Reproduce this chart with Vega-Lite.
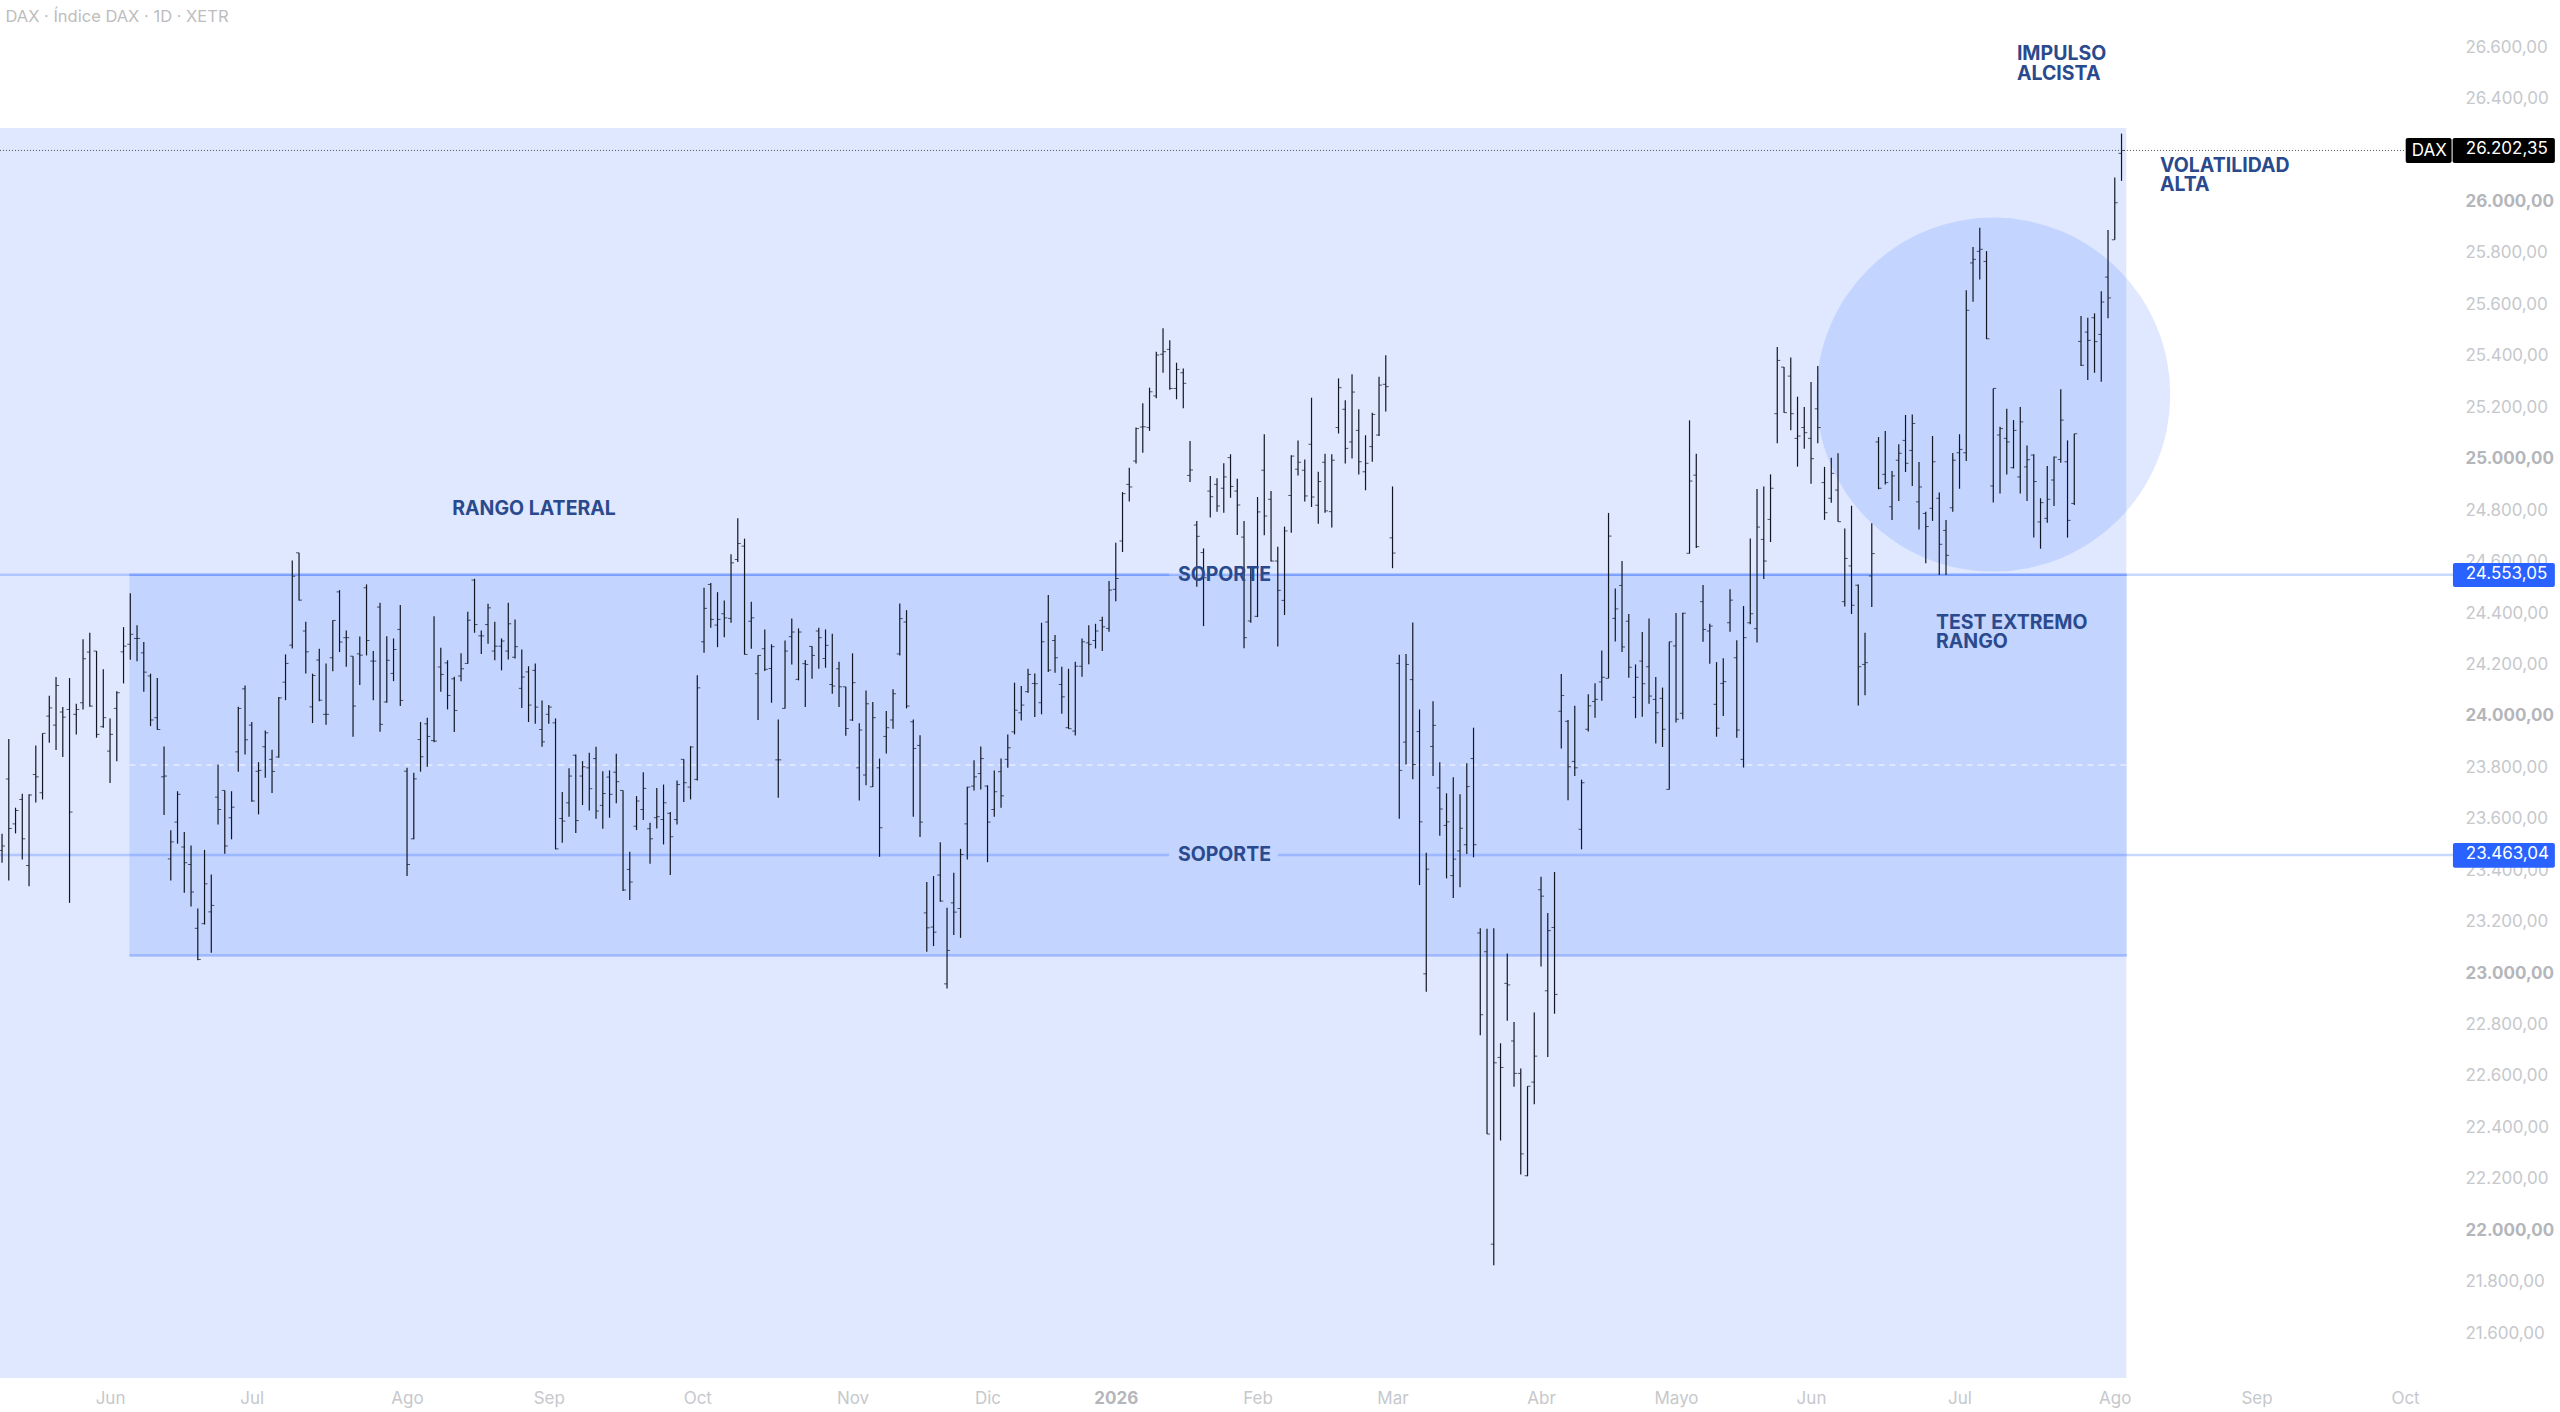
{
  "$schema": "https://vega.github.io/schema/vega-lite/v6.json",
  "description": "DAX daily bars with a lateral range, supports and annotations",
  "width": 2560,
  "height": 1412,
  "padding": 0,
  "autosize": {"type": "none"},
  "background": "#ffffff",
  "config": {"view": {"stroke": null}, "font": "Inter"},
  "datasets": {
    "bars": [
{"i":0,"o":23481,"h":23546,"l":23433,"c":23498},{"i":1,"o":23759,"h":23914,"l":23364,"c":23566},{"i":2,"o":23584,"h":23647,"l":23547,"c":23636},{"i":3,"o":23679,"h":23701,"l":23446,"c":23526},{"i":4,"o":23422,"h":23699,"l":23342,"c":23696},
{"i":5,"o":23776,"h":23889,"l":23667,"c":23767},{"i":6,"o":23705,"h":23936,"l":23679,"c":23936},{"i":7,"o":24003,"h":24082,"l":23899,"c":24035},{"i":8,"o":23968,"h":24155,"l":23871,"c":24122},{"i":9,"o":24019,"h":24038,"l":23844,"c":23999},
{"i":10,"o":24029,"h":24151,"l":23277,"c":23630},{"i":11,"o":24010,"h":24051,"l":23932,"c":24029},{"i":12,"o":24055,"h":24302,"l":24029,"c":24226},{"i":13,"o":24252,"h":24327,"l":24039,"c":24042},{"i":14,"o":24256,"h":24256,"l":23919,"c":23932},
{"i":15,"o":23962,"h":24185,"l":23958,"c":23997},{"i":16,"o":23867,"h":23994,"l":23743,"c":23932},{"i":17,"o":24033,"h":24100,"l":23828,"c":24094},{"i":18,"o":24253,"h":24349,"l":24130,"c":24275},{"i":19,"o":24282,"h":24481,"l":24222,"c":24321},
{"i":20,"o":24305,"h":24356,"l":24216,"c":24305},{"i":21,"o":24249,"h":24291,"l":24098,"c":24174},{"i":22,"o":24159,"h":24168,"l":23964,"c":23988},{"i":23,"o":23997,"h":24151,"l":23950,"c":23951},{"i":24,"o":23767,"h":23885,"l":23619,"c":23770},
{"i":25,"o":23448,"h":23559,"l":23364,"c":23514},{"i":26,"o":23591,"h":23711,"l":23507,"c":23699},{"i":27,"o":23494,"h":23552,"l":23316,"c":23433},{"i":28,"o":23426,"h":23500,"l":23263,"c":23319},{"i":29,"o":23178,"h":23255,"l":23054,"c":23057},
{"i":30,"o":23196,"h":23483,"l":23193,"c":23351},{"i":31,"o":23242,"h":23387,"l":23083,"c":23267},{"i":32,"o":23688,"h":23815,"l":23582,"c":23640},{"i":33,"o":23714,"h":23714,"l":23468,"c":23498},{"i":34,"o":23608,"h":23711,"l":23524,"c":23649},
{"i":35,"o":23864,"h":24039,"l":23787,"c":24033},{"i":36,"o":24109,"h":24122,"l":23854,"c":23911},{"i":37,"o":23968,"h":23980,"l":23670,"c":23673},{"i":38,"o":23789,"h":23824,"l":23621,"c":23792},{"i":39,"o":23884,"h":23947,"l":23763,"c":23938},
{"i":40,"o":23835,"h":23872,"l":23704,"c":23788},{"i":41,"o":23844,"h":24077,"l":23841,"c":24074},{"i":42,"o":24135,"h":24243,"l":24065,"c":24208},{"i":43,"o":24279,"h":24608,"l":24266,"c":24547},{"i":44,"o":24638,"h":24638,"l":24453,"c":24454},
{"i":45,"o":24334,"h":24370,"l":24169,"c":24253},{"i":46,"o":24039,"h":24168,"l":23976,"c":24161},{"i":47,"o":24221,"h":24265,"l":24061,"c":24065},{"i":48,"o":24010,"h":24208,"l":23969,"c":24010},{"i":49,"o":24230,"h":24376,"l":24177,"c":24375},
{"i":50,"o":24486,"h":24493,"l":24252,"c":24291},{"i":51,"o":24308,"h":24336,"l":24195,"c":24308},{"i":52,"o":24236,"h":24236,"l":23923,"c":24042},{"i":53,"o":24245,"h":24313,"l":24124,"c":24240},{"i":54,"o":24502,"h":24515,"l":24239,"c":24297},
{"i":55,"o":24217,"h":24256,"l":24065,"c":24217},{"i":56,"o":24427,"h":24444,"l":23942,"c":23971},{"i":57,"o":24058,"h":24314,"l":24055,"c":24220},{"i":58,"o":24169,"h":24305,"l":24139,"c":24262},{"i":59,"o":24340,"h":24435,"l":24042,"c":24064},
{"i":60,"o":23789,"h":23802,"l":23381,"c":23426},{"i":61,"o":23526,"h":23783,"l":23524,"c":23759},{"i":62,"o":23912,"h":23980,"l":23787,"c":23845},{"i":63,"o":23973,"h":23997,"l":23806,"c":23924},{"i":64,"o":23908,"h":24391,"l":23901,"c":23906},
{"i":65,"o":24194,"h":24269,"l":24098,"c":24165},{"i":66,"o":24210,"h":24220,"l":24029,"c":24083},{"i":67,"o":24148,"h":24156,"l":23941,"c":24025},{"i":68,"o":24159,"h":24247,"l":24139,"c":24187},{"i":69,"o":24208,"h":24409,"l":24207,"c":24376},
{"i":70,"o":24532,"h":24537,"l":24327,"c":24359},{"i":71,"o":24315,"h":24336,"l":24245,"c":24315},{"i":72,"o":24359,"h":24440,"l":24284,"c":24424},{"i":73,"o":24256,"h":24370,"l":24220,"c":24275},{"i":74,"o":24275,"h":24305,"l":24181,"c":24295},
{"i":75,"o":24256,"h":24444,"l":24223,"c":24362},{"i":76,"o":24232,"h":24379,"l":24227,"c":24273},{"i":77,"o":24111,"h":24262,"l":24035,"c":24155},{"i":78,"o":24175,"h":24197,"l":23980,"c":24046},{"i":79,"o":24181,"h":24208,"l":23973,"c":24038},
{"i":80,"o":23951,"h":24064,"l":23884,"c":23903},{"i":81,"o":24010,"h":24046,"l":23973,"c":24038},{"i":82,"o":23977,"h":23994,"l":23485,"c":23487},{"i":83,"o":23605,"h":23708,"l":23511,"c":23595},{"i":84,"o":23666,"h":23800,"l":23612,"c":23770},
{"i":85,"o":23851,"h":23854,"l":23549,"c":23597},{"i":86,"o":23770,"h":23828,"l":23657,"c":23806},{"i":87,"o":23802,"h":23861,"l":23636,"c":23721},{"i":88,"o":23838,"h":23884,"l":23604,"c":23634},{"i":89,"o":23656,"h":23789,"l":23565,"c":23702},
{"i":90,"o":23766,"h":23792,"l":23608,"c":23699},{"i":91,"o":23785,"h":23857,"l":23664,"c":23748},{"i":92,"o":23714,"h":23714,"l":23323,"c":23327},{"i":93,"o":23407,"h":23476,"l":23288,"c":23358},{"i":94,"o":23575,"h":23692,"l":23560,"c":23673},
{"i":95,"o":23640,"h":23785,"l":23599,"c":23722},{"i":96,"o":23565,"h":23588,"l":23429,"c":23526},{"i":97,"o":23608,"h":23724,"l":23566,"c":23612},{"i":98,"o":23601,"h":23737,"l":23504,"c":23666},{"i":99,"o":23625,"h":23630,"l":23385,"c":23534},
{"i":100,"o":23601,"h":23753,"l":23582,"c":23737},{"i":101,"o":23835,"h":23835,"l":23669,"c":23744},{"i":102,"o":23727,"h":23886,"l":23679,"c":23883},{"i":103,"o":23757,"h":24162,"l":23753,"c":24113},{"i":104,"o":24292,"h":24502,"l":24249,"c":24422},
{"i":105,"o":24515,"h":24521,"l":24347,"c":24379},{"i":106,"o":24357,"h":24485,"l":24271,"c":24379},{"i":107,"o":24401,"h":24453,"l":24310,"c":24385},{"i":108,"o":24383,"h":24632,"l":24366,"c":24599},{"i":109,"o":24612,"h":24772,"l":24602,"c":24674},
{"i":110,"o":24664,"h":24693,"l":24242,"c":24243},{"i":111,"o":24372,"h":24448,"l":24265,"c":24385},{"i":112,"o":24168,"h":24240,"l":23988,"c":24239},{"i":113,"o":24265,"h":24340,"l":24178,"c":24185},{"i":114,"o":24188,"h":24282,"l":24055,"c":24273},
{"i":115,"o":23833,"h":23990,"l":23686,"c":23833},{"i":116,"o":24033,"h":24297,"l":24033,"c":24256},{"i":117,"o":24312,"h":24383,"l":24204,"c":24330},{"i":118,"o":24146,"h":24344,"l":24142,"c":24330},{"i":119,"o":24207,"h":24221,"l":24038,"c":24204},
{"i":120,"o":24274,"h":24275,"l":24148,"c":24239},{"i":121,"o":24334,"h":24347,"l":24187,"c":24308},{"i":122,"o":24227,"h":24340,"l":24191,"c":24278},{"i":123,"o":24126,"h":24323,"l":24090,"c":24120},{"i":124,"o":24187,"h":24214,"l":24038,"c":24117},
{"i":125,"o":24117,"h":24117,"l":23927,"c":23955},{"i":126,"o":23988,"h":24247,"l":23984,"c":24133},{"i":127,"o":23802,"h":23975,"l":23675,"c":23949},{"i":128,"o":23774,"h":24103,"l":23734,"c":24051},{"i":129,"o":23728,"h":24058,"l":23727,"c":23997},
{"i":130,"o":23802,"h":23838,"l":23456,"c":23569},{"i":131,"o":23924,"h":24023,"l":23858,"c":23958},{"i":132,"o":23988,"h":24107,"l":23954,"c":24090},{"i":133,"o":24245,"h":24441,"l":24239,"c":24382},{"i":134,"o":24369,"h":24415,"l":24033,"c":24042},
{"i":135,"o":23981,"h":23990,"l":23612,"c":23877},{"i":136,"o":23889,"h":23929,"l":23533,"c":23591},{"i":137,"o":23238,"h":23358,"l":23087,"c":23180},{"i":138,"o":23183,"h":23381,"l":23109,"c":23163},{"i":139,"o":23385,"h":23513,"l":23281,"c":23284},
{"i":140,"o":22962,"h":23258,"l":22944,"c":23092},{"i":141,"o":23277,"h":23394,"l":23152,"c":23241},{"i":142,"o":23255,"h":23487,"l":23141,"c":23465},{"i":143,"o":23584,"h":23728,"l":23446,"c":23727},{"i":144,"o":23731,"h":23831,"l":23714,"c":23767},
{"i":145,"o":23780,"h":23885,"l":23718,"c":23838},{"i":146,"o":23731,"h":23734,"l":23435,"c":23591},{"i":147,"o":23640,"h":23792,"l":23612,"c":23709},{"i":148,"o":23787,"h":23838,"l":23647,"c":23693},{"i":149,"o":23835,"h":23932,"l":23802,"c":23880},
{"i":150,"o":23942,"h":24133,"l":23932,"c":24026},{"i":151,"o":24016,"h":24120,"l":23986,"c":24046},{"i":152,"o":24098,"h":24187,"l":24094,"c":24165},{"i":153,"o":24130,"h":24169,"l":24000,"c":24129},{"i":154,"o":24055,"h":24366,"l":24010,"c":24292},
{"i":155,"o":24369,"h":24474,"l":24175,"c":24182},{"i":156,"o":24297,"h":24318,"l":24172,"c":24230},{"i":157,"o":24126,"h":24195,"l":24012,"c":24078},{"i":158,"o":23958,"h":24187,"l":23954,"c":23954},{"i":159,"o":23945,"h":24214,"l":23928,"c":24197},
{"i":160,"o":24197,"h":24305,"l":24156,"c":24292},{"i":161,"o":24288,"h":24356,"l":24205,"c":24282},{"i":162,"o":24297,"h":24362,"l":24266,"c":24334},{"i":163,"o":24375,"h":24389,"l":24256,"c":24350},{"i":164,"o":24344,"h":24528,"l":24331,"c":24493},
{"i":165,"o":24496,"h":24677,"l":24450,"c":24538},{"i":166,"o":24684,"h":24874,"l":24641,"c":24868},{"i":167,"o":24904,"h":24969,"l":24837,"c":24894},{"i":168,"o":24995,"h":25125,"l":24985,"c":25121},{"i":169,"o":25127,"h":25219,"l":25027,"c":25128},
{"i":170,"o":25125,"h":25280,"l":25112,"c":25264},{"i":171,"o":25248,"h":25420,"l":25239,"c":25407},{"i":172,"o":25410,"h":25511,"l":25338,"c":25420},{"i":173,"o":25429,"h":25464,"l":25272,"c":25277},{"i":174,"o":25277,"h":25377,"l":25235,"c":25351},
{"i":175,"o":25338,"h":25355,"l":25200,"c":25297},{"i":176,"o":24939,"h":25073,"l":24913,"c":24960},{"i":177,"o":24746,"h":24762,"l":24506,"c":24702},{"i":178,"o":24639,"h":24655,"l":24353,"c":24541},{"i":179,"o":24878,"h":24937,"l":24775,"c":24856},
{"i":180,"o":24904,"h":24928,"l":24798,"c":24820},{"i":181,"o":24889,"h":24986,"l":24794,"c":24933},{"i":182,"o":25008,"h":25021,"l":24852,"c":24896},{"i":183,"o":24878,"h":24926,"l":24707,"c":24824},{"i":184,"o":24699,"h":24762,"l":24267,"c":24308},
{"i":185,"o":24373,"h":24584,"l":24366,"c":24541},{"i":186,"o":24391,"h":24855,"l":24388,"c":24797},{"i":187,"o":24959,"h":25099,"l":24706,"c":24781},{"i":188,"o":24846,"h":24878,"l":24604,"c":24606},{"i":189,"o":24606,"h":24662,"l":24274,"c":24492},
{"i":190,"o":24453,"h":24740,"l":24396,"c":24723},{"i":191,"o":24861,"h":25017,"l":24716,"c":25014},{"i":192,"o":24963,"h":25075,"l":24939,"c":24990},{"i":193,"o":24959,"h":25001,"l":24837,"c":24859},{"i":194,"o":25060,"h":25241,"l":24816,"c":24855},
{"i":195,"o":24823,"h":24953,"l":24751,"c":24915},{"i":196,"o":24990,"h":25023,"l":24794,"c":24801},{"i":197,"o":24798,"h":25021,"l":24736,"c":24998},{"i":198,"o":25125,"h":25316,"l":25102,"c":25280},{"i":199,"o":25196,"h":25231,"l":24985,"c":25044},
{"i":200,"o":25069,"h":25332,"l":25005,"c":25263},{"i":201,"o":25114,"h":25196,"l":24942,"c":24992},{"i":202,"o":24953,"h":25095,"l":24881,"c":24986},{"i":203,"o":25051,"h":25183,"l":24992,"c":25176},{"i":204,"o":25096,"h":25322,"l":25092,"c":25290},
{"i":205,"o":25293,"h":25406,"l":25187,"c":25284},{"i":206,"o":24696,"h":24896,"l":24578,"c":24637},{"i":207,"o":24208,"h":24242,"l":23604,"c":23792},{"i":208,"o":23902,"h":24245,"l":23815,"c":24204},{"i":209,"o":24145,"h":24367,"l":23758,"c":23815},
{"i":210,"o":23943,"h":24029,"l":23346,"c":23592},{"i":211,"o":23001,"h":23472,"l":22931,"c":23408},{"i":212,"o":23885,"h":24061,"l":23770,"c":23967},{"i":213,"o":23724,"h":23824,"l":23538,"c":23642},{"i":214,"o":23578,"h":23703,"l":23372,"c":23592},
{"i":215,"o":23383,"h":23765,"l":23296,"c":23447},{"i":216,"o":23479,"h":23699,"l":23338,"c":23567},{"i":217,"o":23503,"h":23820,"l":23467,"c":23729},{"i":218,"o":23838,"h":23958,"l":23454,"c":23503},{"i":219,"o":23160,"h":23178,"l":22762,"c":22842},
{"i":220,"o":23087,"h":23176,"l":22378,"c":22378},{"i":221,"o":21950,"h":23178,"l":21868,"c":22655},{"i":222,"o":22676,"h":22731,"l":22353,"c":22637},{"i":223,"o":22964,"h":23080,"l":22819,"c":22958},{"i":224,"o":22740,"h":22814,"l":22562,"c":22614},
{"i":225,"o":22614,"h":22633,"l":22221,"c":22301},{"i":226,"o":22216,"h":22564,"l":22214,"c":22564},{"i":227,"o":22580,"h":22851,"l":22494,"c":22681},{"i":228,"o":23328,"h":23378,"l":23030,"c":23303},{"i":229,"o":22935,"h":23238,"l":22678,"c":23169},
{"i":230,"o":23181,"h":23397,"l":22846,"c":22921},{"i":231,"o":24022,"h":24167,"l":23877,"c":24083},{"i":232,"o":23983,"h":23988,"l":23676,"c":23806},{"i":233,"o":23827,"h":24043,"l":23770,"c":23802},{"i":234,"o":23563,"h":23756,"l":23485,"c":23744},
{"i":235,"o":23952,"h":24088,"l":23943,"c":24043},{"i":236,"o":24060,"h":24131,"l":23997,"c":24068},{"i":237,"o":24136,"h":24258,"l":24063,"c":24154},{"i":238,"o":24150,"h":24793,"l":24150,"c":24703},{"i":239,"o":24383,"h":24499,"l":24293,"c":24420},
{"i":240,"o":24511,"h":24606,"l":24252,"c":24272},{"i":241,"o":24372,"h":24400,"l":24152,"c":24193},{"i":242,"o":24076,"h":24204,"l":23995,"c":24154},{"i":243,"o":24217,"h":24330,"l":24001,"c":24129},{"i":244,"o":24195,"h":24383,"l":24051,"c":24081},
{"i":245,"o":24068,"h":24155,"l":23897,"c":24016},{"i":246,"o":24072,"h":24114,"l":23883,"c":23952},{"i":247,"o":23718,"h":24292,"l":23718,"c":24292},{"i":248,"o":24276,"h":24404,"l":23978,"c":23991},{"i":249,"o":24014,"h":24405,"l":23991,"c":24403},
{"i":250,"o":24636,"h":25153,"l":24635,"c":24917},{"i":251,"o":24940,"h":25023,"l":24657,"c":24662},{"i":252,"o":24448,"h":24513,"l":24292,"c":24340},{"i":253,"o":24334,"h":24362,"l":24207,"c":24353},{"i":254,"o":24049,"h":24213,"l":23923,"c":23956},
{"i":255,"o":24130,"h":24228,"l":24003,"c":24137},{"i":256,"o":24366,"h":24496,"l":24331,"c":24454},{"i":257,"o":24230,"h":24298,"l":23919,"c":23949},{"i":258,"o":23835,"h":24431,"l":23803,"c":24308},{"i":259,"o":24366,"h":24694,"l":24360,"c":24401},
{"i":260,"o":24343,"h":24886,"l":24289,"c":24738},{"i":261,"o":24690,"h":24896,"l":24536,"c":24606},{"i":262,"o":24768,"h":24943,"l":24680,"c":24889},{"i":263,"o":25179,"h":25438,"l":25064,"c":25386},{"i":264,"o":25360,"h":25360,"l":25183,"c":25183},
{"i":265,"o":25325,"h":25397,"l":25114,"c":25179},{"i":266,"o":25083,"h":25245,"l":24973,"c":25092},{"i":267,"o":25125,"h":25205,"l":25043,"c":25105},{"i":268,"o":25083,"h":25302,"l":24906,"c":25004},{"i":269,"o":25198,"h":25364,"l":25064,"c":25125},
{"i":270,"o":24911,"h":24972,"l":24766,"c":24794},{"i":271,"o":24850,"h":25008,"l":24833,"c":24947},{"i":272,"o":24882,"h":25025,"l":24759,"c":24759},{"i":273,"o":24448,"h":24732,"l":24429,"c":24616},{"i":274,"o":24587,"h":24821,"l":24400,"c":24434},
{"i":275,"o":24512,"h":24515,"l":24044,"c":24195},{"i":276,"o":24204,"h":24327,"l":24084,"c":24211},{"i":277,"o":24548,"h":24753,"l":24427,"c":24635},{"i":278,"o":25069,"h":25088,"l":24885,"c":24889},{"i":279,"o":24943,"h":25112,"l":24904,"c":24911},
{"i":280,"o":24817,"h":24956,"l":24766,"c":24937},{"i":281,"o":24998,"h":25060,"l":24839,"c":25025},{"i":282,"o":25075,"h":25174,"l":24952,"c":24986},{"i":283,"o":25036,"h":25176,"l":24898,"c":25141},{"i":284,"o":24836,"h":24991,"l":24729,"c":24894},
{"i":285,"o":24791,"h":24798,"l":24597,"c":24740},{"i":286,"o":24811,"h":25092,"l":24762,"c":24992},{"i":287,"o":24850,"h":24872,"l":24552,"c":24671},{"i":288,"o":24725,"h":24766,"l":24552,"c":24628},{"i":289,"o":24813,"h":25026,"l":24798,"c":24998},
{"i":290,"o":25027,"h":25099,"l":24887,"c":25040},{"i":291,"o":25027,"h":25659,"l":24995,"c":25581},{"i":292,"o":25765,"h":25827,"l":25614,"c":25779},{"i":293,"o":25810,"h":25902,"l":25701,"c":25818},{"i":294,"o":25771,"h":25811,"l":25469,"c":25470},
{"i":295,"o":24898,"h":25277,"l":24834,"c":25277},{"i":296,"o":25096,"h":25128,"l":24869,"c":25121},{"i":297,"o":25083,"h":25198,"l":24942,"c":25069},{"i":298,"o":24969,"h":25154,"l":24966,"c":25114},{"i":299,"o":24933,"h":25205,"l":24869,"c":25147},
{"i":300,"o":24972,"h":25055,"l":24839,"c":25000},{"i":301,"o":25018,"h":25021,"l":24697,"c":24915},{"i":302,"o":24758,"h":24850,"l":24654,"c":24833},{"i":303,"o":24772,"h":24975,"l":24755,"c":24846},{"i":304,"o":24921,"h":25012,"l":24820,"c":25010},
{"i":305,"o":25001,"h":25274,"l":24988,"c":25154},{"i":306,"o":24992,"h":25075,"l":24697,"c":24764},{"i":307,"o":24830,"h":25101,"l":24824,"c":25101},{"i":308,"o":25460,"h":25559,"l":25364,"c":25367},{"i":309,"o":25496,"h":25552,"l":25310,"c":25464},
{"i":310,"o":25552,"h":25569,"l":25338,"c":25459},{"i":311,"o":25487,"h":25655,"l":25303,"c":25613},{"i":312,"o":25710,"h":25893,"l":25550,"c":25629},{"i":313,"o":25855,"h":26097,"l":25855,"c":25999},{"i":314,"o":26191,"h":26268,"l":26084,"c":26202.35}
    ],
    "labels": [
      {"i": 66.7, "p": 24808, "t": "RANGO LATERAL"},
      {"i": 174.2, "p": 24552, "t": "SOPORTE"},
      {"i": 174.2, "p": 23463, "t": "SOPORTE"},
      {"i": 298.5, "p": 26577, "t": "IMPULSO"},
      {"i": 298.5, "p": 26500, "t": "ALCISTA"},
      {"i": 319.7, "p": 26142, "t": "VOLATILIDAD"},
      {"i": 319.7, "p": 26068, "t": "ALTA"},
      {"i": 286.5, "p": 24366, "t": "TEST EXTREMO"},
      {"i": 286.5, "p": 24292, "t": "RANGO"}
    ],
    "tags": [
      {"i": 357, "p": 26200, "t": "DAX"},
      {"i": 365, "p": 26208, "t": "26.202,35"},
      {"i": 365, "p": 24557, "t": "24.553,05"},
      {"i": 365, "p": 23468, "t": "23.463,04"}
    ]
  },
  "layer": [
    {
      "data": {"values": [{"a": -0.31, "b": 314.7, "p": 26290, "p2": 21430}]},
      "mark": {"type": "rect", "color": "#2962ff", "opacity": 0.15},
      "encoding": {
        "x": {
          "field": "a",
          "type": "quantitative",
          "title": null,
          "scale": {"domain": [-0.302, 378.96], "nice": false, "zero": false},
          "axis": {
            "orient": "bottom",
            "values": [16, 37, 60, 81, 103, 126, 146, 165, 186, 206, 228, 248, 268, 290, 313, 334, 356],
            "labelExpr": "['Jun','Jul','Ago','Sep','Oct','Nov','Dic','2026','Feb','Mar','Abr','Mayo','Jun','Jul','Ago','Sep','Oct'][indexof([16,37,60,81,103,126,146,165,186,206,228,248,268,290,313,334,356],datum.value)]",
            "domain": false,
            "ticks": false,
            "grid": false,
            "labelPadding": -14,
            "labelBaseline": "middle",
            "labelFont": "Inter",
            "labelFontSize": 17,
            "labelColor": {"condition": {"test": "datum.value === 165", "value": "#b4b6bb"}, "value": "#c6c8cc"},
            "labelFontWeight": {"condition": {"test": "datum.value === 165", "value": 700}, "value": 400},
            "labelOverlap": false,
            "labelFlush": false
          }
        },
        "x2": {"field": "b"},
        "y": {
          "field": "p",
          "type": "quantitative",
          "title": null,
          "scale": {"domain": [21297.4, 26787.3], "nice": false, "zero": false},
          "axis": {
            "orient": "right",
            "values": [21600, 21800, 22000, 22200, 22400, 22600, 22800, 23000, 23200, 23400, 23600, 23800, 24000, 24200, 24400, 24600, 24800, 25000, 25200, 25400, 25600, 25800, 26000, 26200, 26400, 26600, 26800],
            "labelExpr": "datum.value === 26200 ? '' : replace(format(datum.value, ',.0f'), ',', '.') + ',00'",
            "domain": false,
            "ticks": false,
            "grid": false,
            "labelPadding": -95,
            "labelAlign": "left",
            "labelOffset": -1,
            "labelFont": "Inter",
            "labelFontSize": 17,
            "labelColor": {"condition": {"test": "datum.value % 1000 === 0", "value": "#b4b6bb"}, "value": "#c6c8cc"},
            "labelFontWeight": {"condition": {"test": "datum.value % 1000 === 0", "value": 700}, "value": 400},
            "labelOverlap": false,
            "labelFlush": false,
            "labelBound": false
          }
        },
        "y2": {"field": "p2"}
      }
    },
    {
      "data": {"values": [{"a": 18.87, "b": 314.8, "p": 24553.05, "p2": 23072}]},
      "mark": {"type": "rect", "color": "#2962ff", "opacity": 0.15},
      "encoding": {
        "x": {"field": "a", "type": "quantitative"},
        "x2": {"field": "b"},
        "y": {"field": "p", "type": "quantitative"},
        "y2": {"field": "p2"}
      }
    },
    {
      "data": {"values": [{"i": 295, "p": 25253}]},
      "mark": {"type": "circle", "size": 125316, "color": "#2962ff", "opacity": 0.15},
      "encoding": {
        "x": {"field": "i", "type": "quantitative"},
        "y": {"field": "p", "type": "quantitative"}
      }
    },
    {
      "data": {"values": [
        {"a": 18.87, "b": 314.8, "p": 24553.05},
        {"a": 18.87, "b": 314.8, "p": 23072}
      ]},
      "mark": {"type": "rule", "color": "#2962ff", "opacity": 0.3, "strokeWidth": 2.5},
      "encoding": {
        "x": {"field": "a", "type": "quantitative"},
        "x2": {"field": "b"},
        "y": {"field": "p", "type": "quantitative"}
      }
    },
    {
      "data": {"values": [
        {"a": -0.31, "b": 172.9, "p": 24553.05},
        {"a": 189, "b": 363.1, "p": 24553.05},
        {"a": -0.31, "b": 172.9, "p": 23463.04},
        {"a": 189, "b": 363.1, "p": 23463.04}
      ]},
      "mark": {"type": "rule", "color": "#2962ff", "opacity": 0.25, "strokeWidth": 2.5},
      "encoding": {
        "x": {"field": "a", "type": "quantitative"},
        "x2": {"field": "b"},
        "y": {"field": "p", "type": "quantitative"}
      }
    },
    {
      "data": {"values": [{"a": 18.87, "b": 314.8, "p": 23812.5}]},
      "mark": {"type": "rule", "color": "#ffffff", "opacity": 0.6, "strokeWidth": 1.5, "strokeDash": [6, 5]},
      "encoding": {
        "x": {"field": "a", "type": "quantitative"},
        "x2": {"field": "b"},
        "y": {"field": "p", "type": "quantitative"}
      }
    },
    {
      "data": {"values": [{"a": -0.31, "b": 356.1, "p": 26202.35}]},
      "mark": {"type": "rule", "color": "#4d5058", "strokeWidth": 1, "strokeDash": [1, 2]},
      "encoding": {
        "x": {"field": "a", "type": "quantitative"},
        "x2": {"field": "b"},
        "y": {"field": "p", "type": "quantitative"}
      }
    },
    {
      "data": {"name": "bars"},
      "mark": {"type": "rule", "color": "#131722", "strokeWidth": 1.2},
      "encoding": {
        "x": {"field": "i", "type": "quantitative"},
        "y": {"field": "l", "type": "quantitative"},
        "y2": {"field": "h"}
      }
    },
    {
      "data": {"name": "bars"},
      "mark": {"type": "tick", "orient": "horizontal", "color": "#131722", "size": 3, "thickness": 1, "xOffset": -1.5},
      "encoding": {
        "x": {"field": "i", "type": "quantitative"},
        "y": {"field": "o", "type": "quantitative"}
      }
    },
    {
      "data": {"name": "bars"},
      "mark": {"type": "tick", "orient": "horizontal", "color": "#131722", "size": 3, "thickness": 1, "xOffset": 1.5},
      "encoding": {
        "x": {"field": "i", "type": "quantitative"},
        "y": {"field": "c", "type": "quantitative"}
      }
    },
    {
      "data": {"values": [
        {"a": 356.1, "b": 362.9, "p": 26251, "p2": 26154, "k": "black"},
        {"a": 363.05, "b": 378.2, "p": 26251, "p2": 26154, "k": "black"},
        {"a": 363.1, "b": 378.2, "p": 24598, "p2": 24505, "k": "blue"},
        {"a": 363.1, "b": 378.2, "p": 23510, "p2": 23413, "k": "blue"}
      ]},
      "mark": {"type": "rect", "cornerRadius": 2},
      "encoding": {
        "x": {"field": "a", "type": "quantitative"},
        "x2": {"field": "b"},
        "y": {"field": "p", "type": "quantitative"},
        "y2": {"field": "p2"},
        "color": {
          "field": "k",
          "type": "nominal",
          "legend": null,
          "scale": {"domain": ["black", "blue"], "range": ["#000000", "#2962ff"]}
        }
      }
    },
    {
      "data": {"name": "labels"},
      "mark": {"type": "text", "align": "left", "baseline": "middle", "font": "Inter", "fontSize": 19.5, "fontWeight": 700, "color": "#2b4a8d"},
      "encoding": {
        "x": {"field": "i", "type": "quantitative"},
        "y": {"field": "p", "type": "quantitative"},
        "text": {"field": "t"}
      }
    },
    {
      "data": {"name": "tags"},
      "mark": {"type": "text", "align": "left", "baseline": "middle", "font": "Inter", "fontSize": 17, "color": "#ffffff"},
      "encoding": {
        "x": {"field": "i", "type": "quantitative"},
        "y": {"field": "p", "type": "quantitative"},
        "text": {"field": "t"}
      }
    },
    {
      "data": {"values": [{"i": 0.5, "p": 26721, "t": "DAX · Índice DAX · 1D · XETR"}]},
      "mark": {"type": "text", "align": "left", "baseline": "middle", "font": "Inter", "fontSize": 16.5, "color": "#bdbdbd"},
      "encoding": {
        "x": {"field": "i", "type": "quantitative"},
        "y": {"field": "p", "type": "quantitative"},
        "text": {"field": "t"}
      }
    }
  ]
}
